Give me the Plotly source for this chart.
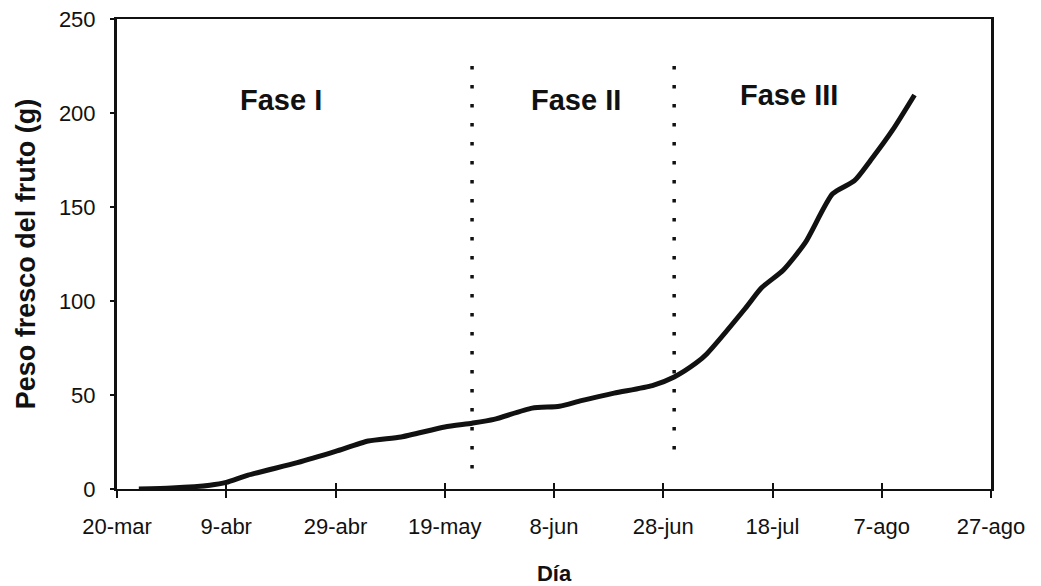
import plotly.graph_objects as go

# ---- data ----
dates = ["2001-03-24", "2001-03-30", "2001-04-06", "2001-04-09", "2001-04-13",
         "2001-04-22", "2001-04-29", "2001-05-05", "2001-05-11", "2001-05-19",
         "2001-05-24", "2001-05-28", "2001-06-04", "2001-06-09", "2001-06-13",
         "2001-06-19", "2001-06-26", "2001-06-30", "2001-07-04", "2001-07-06",
         "2001-07-13", "2001-07-16", "2001-07-20", "2001-07-24", "2001-07-29",
         "2001-08-02", "2001-08-05", "2001-08-09", "2001-08-13"]
peso = [0, 0.5, 2, 3.5, 7.4,
        14, 20, 25.5, 27.7, 33,
        35, 37, 43, 44, 47,
        51, 55, 59.6, 67, 72,
        96, 107, 116.5, 131, 157,
        164, 175, 191, 209.6]

tick_dates = ["2001-03-20", "2001-04-09", "2001-04-29", "2001-05-19", "2001-06-08",
              "2001-06-28", "2001-07-18", "2001-08-07", "2001-08-27"]
tick_labels = ["20-mar", "9-abr", "29-abr", "19-may", "8-jun",
               "28-jun", "18-jul", "7-ago", "27-ago"]
y_ticks = [0, 50, 100, 150, 200, 250]

phase_bounds = ["2001-05-24", "2001-06-30"]
phase_bottom = [10, 19.7]
phase_top = [225, 225]

phase_names = ["Fase I", "Fase II", "Fase III"]
phase_label_x = ["2001-04-19", "2001-06-12", "2001-07-21"]
phase_label_y = [207, 207, 209.5]

FONT = "Arial, Liberation Sans, Helvetica, sans-serif"
INK = "#111111"

fig = go.Figure()

fig.add_trace(go.Scatter(
    x=dates, y=peso, mode="lines",
    line=dict(color=INK, width=5, shape="spline", smoothing=0.6),
    showlegend=False, hoverinfo="skip"))

# dotted phase boundaries, drawn from the top down so the first dot sits at the top
for xb, yb, yt in zip(phase_bounds, phase_bottom, phase_top):
    fig.add_trace(go.Scatter(
        x=[xb, xb], y=[yt, yb], mode="lines",
        line=dict(color=INK, width=3.5, dash="3.5px,15.5px"),
        showlegend=False, hoverinfo="skip"))

# invisible trace for the overlay axis carrying the inner half of the x ticks
fig.add_trace(go.Scatter(x=[tick_dates[0]], y=[0], xaxis="x2", mode="markers",
                         marker=dict(opacity=0), showlegend=False, hoverinfo="skip"))

for name, xl, yl in zip(phase_names, phase_label_x, phase_label_y):
    fig.add_annotation(x=xl, y=yl, xref="x", yref="y", text="<b>%s</b>" % name,
                       showarrow=False, font=dict(family=FONT, size=29, color=INK))

x_range = [tick_dates[0], tick_dates[-1]]

fig.update_layout(
    width=1041, height=586,
    margin=dict(l=109, r=58, t=11, b=105),
    paper_bgcolor="white", plot_bgcolor="white",
    font=dict(family=FONT, size=22, color=INK),
    xaxis=dict(
        type="date", range=x_range, automargin=False,
        tickmode="array", tickvals=tick_dates, ticktext=tick_labels,
        ticks="outside", ticklen=7, tickwidth=2, tickcolor=INK,
        showline=True, linecolor=INK, linewidth=2, mirror=True,
        showgrid=False, zeroline=False,
        ticklabelstandoff=10, ticklabeloverflow="allow",
        tickfont=dict(family=FONT, size=22, color=INK),
        title=dict(text="<b>Día</b>", font=dict(family=FONT, size=22, color=INK),
                   standoff=27),
    ),
    xaxis2=dict(
        type="date", overlaying="x", matches="x", range=x_range, automargin=False,
        tickmode="array", tickvals=tick_dates, ticktext=tick_labels,
        ticks="inside", ticklen=6, tickwidth=2, tickcolor=INK,
        showticklabels=False, showline=False, showgrid=False, zeroline=False,
        side="bottom",
    ),
    yaxis=dict(
        range=[0, 250], tickmode="array", tickvals=y_ticks, automargin=False,
        ticks="outside", ticklen=4, tickwidth=1.5, tickcolor=INK,
        showline=True, linecolor=INK, linewidth=3, mirror=True,
        showgrid=False, zeroline=False,
        ticklabelstandoff=10, ticklabeloverflow="allow",
        tickfont=dict(family=FONT, size=22, color=INK),
        title=dict(text="<b>Peso fresco del fruto (g)</b>",
                   font=dict(family=FONT, size=27, color=INK), standoff=16),
    ),
)

fig.write_html("out.html")
